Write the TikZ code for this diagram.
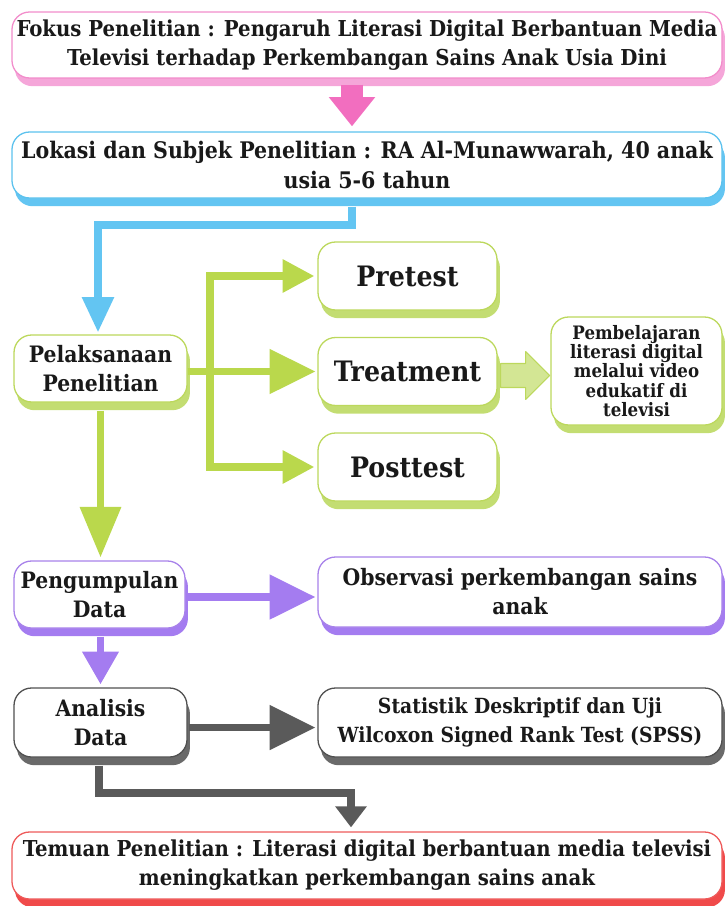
\documentclass[tikz,border=0pt]{standalone}
\usepackage{fontspec}
\setmainfont{DejaVu Serif Condensed}
\usetikzlibrary{arrows.meta,shadows,calc,positioning}
\definecolor{pinkL}{HTML}{F28DCB}
\definecolor{pinkS}{HTML}{F5A6D9}
\definecolor{pinkA}{HTML}{F26EBF}
\definecolor{blueL}{HTML}{5CC2EE}
\definecolor{blueS}{HTML}{63C5F2}
\definecolor{greenL}{HTML}{BCD85C}
\definecolor{greenS}{HTML}{C3DD72}
\definecolor{greenA}{HTML}{BAD84C}
\definecolor{greenF}{HTML}{D3E694}
\definecolor{purpL}{HTML}{A882EA}
\definecolor{purpS}{HTML}{A47CF0}
\definecolor{grayL}{HTML}{505050}
\definecolor{grayS}{HTML}{6A6A6A}
\definecolor{grayA}{HTML}{5A5A5A}
\definecolor{redL}{HTML}{EE5A5A}
\definecolor{redS}{HTML}{F04A4A}
\begin{document}
\begin{tikzpicture}[x=0.03cm,y=-0.03cm,
  box/.style 2 args={draw=#1,fill=white,line width=1.1pt,rounded corners=15pt,
    align=center,inner sep=0pt,text=black!90,
    general shadow={fill=#2,shadow xshift=2.5pt,shadow yshift=-7pt}},
  txt/.style={font=\bfseries\fontsize{#1}{24.8}\selectfont},
  bigfont/.style={font=\bfseries\fontsize{24}{28}\selectfont},
  smallfont/.style={font=\bfseries\fontsize{15.8}{16.4}\selectfont},
  link/.style={line width=6pt,line join=miter}]
\useasboundingbox (0,0) rectangle (725,906);
\node[box={pinkL}{pinkS},txt=18.7,minimum width=21.3cm,minimum height=1.98cm] (focus) at (367,45)
  {Fokus Penelitian : Pengaruh Literasi Digital Berbantuan Media\\Televisi terhadap Perkembangan Sains Anak Usia Dini};
\node[box={blueL}{blueS},txt=19.5,minimum width=21.3cm,minimum height=1.98cm] (lokasi) at (367,165)
  {Lokasi dan Subjek Penelitian : RA Al-Munawwarah, 40 anak\\usia 5-6 tahun};
\node[box={greenL}{greenS},txt=19.3,minimum width=5.19cm,minimum height=2.01cm] (pelaks) at (100.5,368.5)
  {Pelaksanaan\\Penelitian};
\node[box={greenL}{greenS},bigfont,minimum width=5.37cm,minimum height=2.04cm] (pretest) at (407.5,276) {Pretest};
\node[box={greenL}{greenS},bigfont,minimum width=5.37cm,minimum height=2.04cm] (treat) at (407.5,371.5) {Treatment};
\node[box={greenL}{greenS},bigfont,minimum width=5.37cm,minimum height=2.04cm] (posttest) at (407.5,467) {Posttest};
\node[box={greenL}{greenS},smallfont,minimum width=5.13cm,minimum height=3.24cm] (pemb) at (636.5,371)
  {Pembelajaran\\literasi digital\\melalui video\\edukatif di\\televisi};
\node[box={purpL}{purpS},txt=19.3,minimum width=5.13cm,minimum height=2.01cm] (pengum) at (99.5,594.5)
  {Pengumpulan\\Data};
\node[box={purpL}{purpS},txt=19.3,minimum width=12.12cm,minimum height=2.1cm] (obs) at (520,592)
  {Observasi perkembangan sains\\anak};
\node[box={grayL}{grayS},txt=19.3,minimum width=5.19cm,minimum height=2.07cm] (anal) at (100.5,722.5)
  {Analisis\\Data};
\node[box={grayL}{grayS},txt=17.8,minimum width=12.12cm,minimum height=2.07cm] (stat) at (520,722.5)
  {Statistik Deskriptif dan Uji\\Wilcoxon Signed Rank Test (SPSS)};
\node[box={redL}{redS},txt=18.7,minimum width=21.3cm,minimum height=2.01cm] (temuan) at (367,865.5)
  {Temuan Penelitian : Literasi digital berbantuan media televisi\\meningkatkan perkembangan sains anak};
\draw[pinkA,line width=18pt,-{Triangle[width=38pt,length=25pt]}] ($(focus.south)+(-15,6)$) -- ($(lokasi.north)+(-15,-5)$);
\coordinate (bturn) at (352,225);
\draw[blueS,link,-{Triangle[width=26pt,length=30pt]}] ($(lokasi.south)+(-15,8)$) |- (bturn) -| ($(pelaks.north)+(-2.5,-2)$);
\coordinate (gx) at (210,372);
\draw[greenA,link,{Triangle[width=27pt,length=27pt]}-{Triangle[width=27pt,length=27pt]}]
  ($(pretest.west)+(-3,0)$) -| (gx |- posttest.west) -- ($(posttest.west)+(-3,0)$);
\draw[greenA,link,-{Triangle[width=37pt,length=39pt]}] (pelaks.east |- treat.west) -- ($(treat.west)+(-2,0)$);
\draw[greenL,fill=greenF,line width=0.9pt,line join=round] ($(treat.east)+(3,-8)$) -- ++(25,0) -- ++(0,-12) -- ++(24,24) -- ++(-24,24) -- ++(0,-12) -- ++(-25,0) -- cycle;
\draw[greenA,link,-{Triangle[width=34pt,length=43pt]}] ($(pelaks.south)+(0,8)$) -- ($(pelaks.south |- pengum.north)+(0,-3)$);
\draw[purpS,link,-{Triangle[width=37pt,length=39pt]}] ($(pengum.east)+(1,2.5)$) -- ($(pengum.east -| obs.west)+(-2,2.5)$);
\draw[purpS,link,-{Triangle[width=30pt,length=28pt]}] ($(pengum.south)+(1,8)$) -- ($(pengum.south |- anal.north)+(1,-3)$);
\draw[grayA,link,-{Triangle[width=37pt,length=39pt]}] ($(anal.east)+(1,5)$) -- ($(anal.east -| stat.west)+(-2,5)$);
\coordinate (kturn) at (99,793);
\draw[grayA,link,-{Triangle[width=26pt,length=18pt]}] ($(anal.south)+(-1.5,8)$) -- (kturn) -| ($(temuan.north)+(-16,-4)$);
\end{tikzpicture}
\end{document}
